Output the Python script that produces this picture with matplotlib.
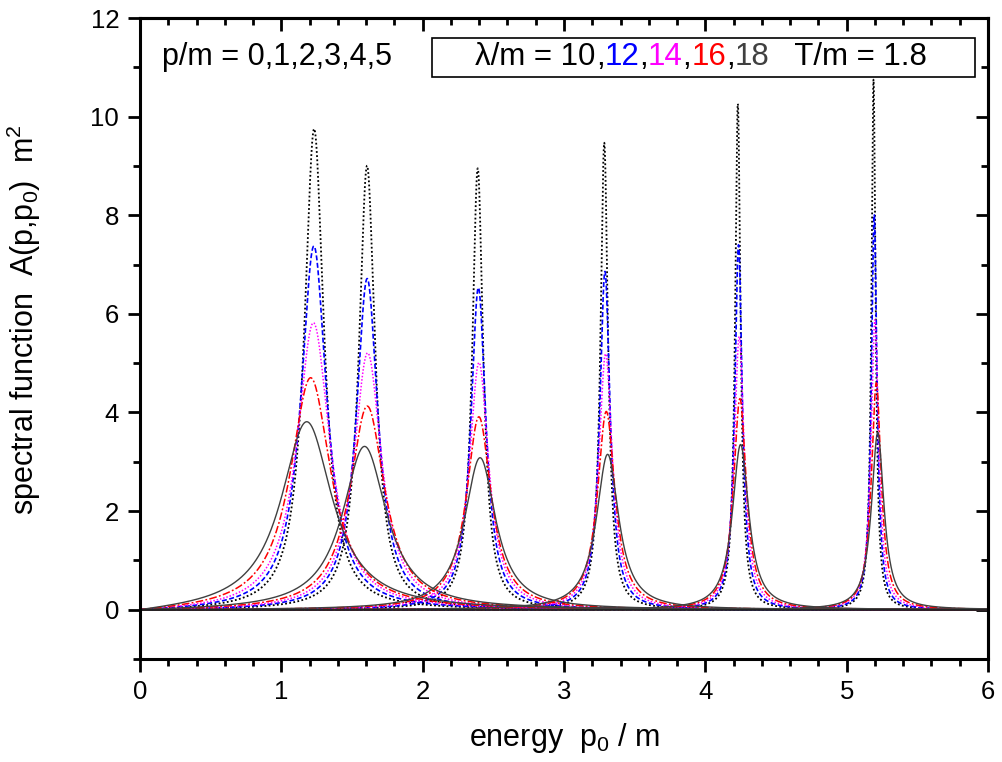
import numpy as np
import matplotlib
matplotlib.use("Agg")
import matplotlib.pyplot as plt
from matplotlib.patches import Rectangle
from matplotlib.offsetbox import TextArea, HPacker, AnnotationBbox

plt.rcParams['font.family'] = ['Liberation Sans', 'DejaVu Sans']
plt.rcParams['mathtext.fontset'] = 'custom'
plt.rcParams['mathtext.rm'] = 'Liberation Sans'
plt.rcParams['mathtext.it'] = 'Liberation Sans:italic'

# momenta p/m and coupling values lambda/m
p_vals = [0, 1, 2, 3, 4, 5]
lam_vals = ['10', '12', '14', '16', '18']

# resonance positions (p0/m), one row per lambda
peak_pos = {
    '10': [1.235, 1.608, 2.39, 3.285, 4.23, 5.19],
    '12': [1.235, 1.61, 2.395, 3.29, 4.235, 5.195],
    '14': [1.235, 1.615, 2.40, 3.295, 4.24, 5.20],
    '16': [1.22, 1.615, 2.40, 3.30, 4.245, 5.21],
    '18': [1.20, 1.60, 2.41, 3.31, 4.25, 5.22],
}
# peak heights A m^2
peak_h = {
    '10': [9.74, 9.00, 8.95, 9.47, 10.26, 10.75],
    '12': [7.36, 6.71, 6.53, 6.86, 7.40, 8.01],
    '14': [5.80, 5.20, 5.01, 5.19, 5.54, 5.88],
    '16': [4.68, 4.12, 3.91, 4.02, 4.28, 4.60],
    '18': [3.78, 3.30, 3.08, 3.15, 3.35, 3.59],
}

cols = {'10': '#000000', '12': '#0000ff', '14': '#ff00ff', '16': '#ff0000', '18': '#404040'}
ls = {'10': (0, (1, 1.3)), '12': (0, (3, 1.5)), '14': (0, (1, 1.2)),
      '16': (0, (5, 1.5, 1.2, 1.5)), '18': '-'}
lws = {'10': 1.3, '12': 1.2, '14': 1.1, '16': 1.1, '18': 1.0}


def spectral(p0, E, h):
    # relativistic Breit-Wigner shape with width fixed by the peak height
    g = 2.0 / (E * h)
    return 2 * p0 * g / ((p0**2 - E**2)**2 + (p0 * g)**2)


fig = plt.figure(figsize=(10.02, 7.62), dpi=100)
ax = fig.add_axes([140/1002, 1 - 659/762, 848/1002, 641/762])

p0 = np.linspace(0, 6, 8001)
for lam in lam_vals:
    for i, p in enumerate(p_vals):
        ax.plot(p0, spectral(p0, peak_pos[lam][i], peak_h[lam][i]),
                color=cols[lam], linestyle=ls[lam], lw=lws[lam])

ax.axhline(0, color='#202020', lw=1.2)

ax.set_xlim(0, 6)
ax.set_ylim(-1, 12)
ax.set_xticks(np.arange(0, 7, 1))
ax.set_xticks(np.arange(0, 6.01, 0.2), minor=True)
ax.set_yticks(np.arange(0, 13, 2))
ax.set_yticks(np.arange(-1, 12.01, 1), minor=True)

for s in ax.spines.values():
    s.set_linewidth(2.2)
ax.tick_params(which='both', direction='out', width=2, labelsize=18.5)
ax.tick_params(which='major', length=9, pad=6)
ax.tick_params(which='minor', length=5)
# mirrored ticks pointing inward on top and right
secx = ax.secondary_xaxis('top')
secx.set_xticks(np.arange(0, 7, 1))
secx.set_xticks(np.arange(0, 6.01, 0.2), minor=True)
secx.tick_params(which='both', direction='in', width=2, labeltop=False)
secx.tick_params(which='major', length=9)
secx.tick_params(which='minor', length=5)
secx.spines['top'].set_linewidth(2.2)
secy = ax.secondary_yaxis('right')
secy.set_yticks(np.arange(0, 13, 2))
secy.set_yticks(np.arange(-1, 12.01, 1), minor=True)
secy.tick_params(which='both', direction='in', width=2, labelright=False)
secy.tick_params(which='major', length=9)
secy.tick_params(which='minor', length=5)
secy.spines['right'].set_linewidth(2.2)

ax.set_xlabel('energy  p$_0$ / m', fontsize=22)
ax.set_ylabel('spectral function  A(p,p$_0$)  m$^2$', fontsize=22)
ax.xaxis.set_label_coords(0.5, -0.097)
ax.yaxis.set_label_coords(-0.114, 0.53)

ax.text(0.026, 0.939, 'p/m = 0,1,2,3,4,5', transform=ax.transAxes,
        fontsize=22, va='center', ha='left')

ax.add_patch(Rectangle((0.344, 0.908), 0.641, 0.061, transform=ax.transAxes,
                       facecolor='white', edgecolor='k', lw=1.2, zorder=5))
parts = [('λ/m = 10', 'k'), (',', 'k'), ('12', cols['12']), (',', 'k'),
         ('14', cols['14']), (',', 'k'), ('16', cols['16']), (',', 'k'),
         ('18', cols['18']), ('   T/m = 1.8', 'k')]
areas = [TextArea(t, textprops=dict(color=c, fontsize=22.5)) for t, c in parts]
pack = HPacker(children=areas, align='baseline', pad=0, sep=0)
ab = AnnotationBbox(pack, (0.662, 0.939), xycoords='axes fraction',
                    frameon=False, box_alignment=(0.5, 0.5), zorder=6)
ax.add_artist(ab)

fig.savefig('out.png', dpi=100)
